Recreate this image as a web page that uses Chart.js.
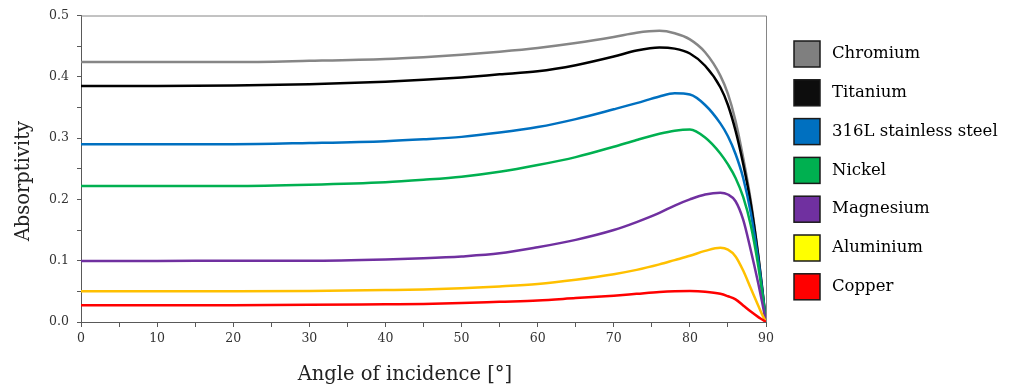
<!DOCTYPE html>
<html>
<head>
<meta charset="utf-8">
<script src="https://cdn.jsdelivr.net/npm/chart.js@4.4.1/dist/chart.umd.min.js"></script>
<style>
  html, body { margin: 0; padding: 0; background: #fff; }
  #wrap { width: 1009px; height: 392px; position: relative; }
</style>
</head>
<body>
<div id="wrap"><canvas id="absChart"></canvas></div>
<script>
// angle of incidence (deg)
const angles = [0, 10, 20, 30, 40, 45, 50, 55, 60, 65, 70, 73, 76, 78, 80, 82, 84, 85, 86, 87, 88, 89, 89.5, 90];

// absorptivity per metal
const chromium  = [0.424, 0.424, 0.424, 0.426, 0.429, 0.432, 0.436, 0.441, 0.447, 0.455, 0.465, 0.472, 0.475, 0.471, 0.461, 0.440, 0.402, 0.372, 0.328, 0.268, 0.198, 0.108, 0.056, 0];
const titanium  = [0.385, 0.385, 0.386, 0.388, 0.392, 0.395, 0.399, 0.404, 0.409, 0.419, 0.433, 0.443, 0.448, 0.446, 0.438, 0.418, 0.383, 0.354, 0.312, 0.258, 0.193, 0.106, 0.055, 0];
const steel316L = [0.290, 0.290, 0.290, 0.292, 0.295, 0.298, 0.302, 0.309, 0.318, 0.331, 0.347, 0.357, 0.368, 0.373, 0.371, 0.354, 0.324, 0.303, 0.274, 0.235, 0.178, 0.1, 0.052, 0];
const nickel    = [0.222, 0.222, 0.222, 0.224, 0.228, 0.232, 0.237, 0.245, 0.256, 0.269, 0.286, 0.297, 0.307, 0.312, 0.314, 0.301, 0.275, 0.257, 0.235, 0.204, 0.158, 0.09, 0.047, 0];
const magnesium = [0.0995, 0.0995, 0.1, 0.1, 0.102, 0.104, 0.107, 0.112, 0.122, 0.134, 0.15, 0.163, 0.178, 0.19, 0.2, 0.208, 0.211, 0.208, 0.197, 0.167, 0.117, 0.062, 0.032, 0];
const aluminium = [0.05, 0.05, 0.05, 0.0505, 0.052, 0.053, 0.055, 0.058, 0.062, 0.069, 0.078, 0.085, 0.094, 0.101, 0.108, 0.116, 0.121, 0.118, 0.107, 0.084, 0.055, 0.026, 0.012, 0];
const copper    = [0.0273, 0.0273, 0.0275, 0.028, 0.029, 0.0295, 0.031, 0.033, 0.035, 0.039, 0.043, 0.046, 0.049, 0.0502, 0.0505, 0.0495, 0.046, 0.042, 0.037, 0.027, 0.017, 0.008, 0.004, 0];

const names = ["Chromium", "Titanium", "316L stainless steel", "Nickel", "Magnesium", "Aluminium", "Copper"];
const series = [chromium, titanium, steel316L, nickel, magnesium, aluminium, copper];
const lineColors = ["#868686", "#000000", "#0070C0", "#00B050", "#7030A0", "#FFC000", "#FF0000"];
const boxColors  = ["#7f7f7f", "#0d0d0d", "#0070C0", "#00B050", "#7030A0", "#FFFF00", "#FF0000"];

const serif = "'DejaVu Serif', 'Liberation Serif', serif";
const nb = "\u00A0";

// frame round the plot + legend on the right
const framePlugin = {
    id: 'frame',
    afterDraw(chart) {
        const ctx = chart.ctx;
        const a = chart.chartArea;
        ctx.save();
        ctx.strokeStyle = "#868686";
        ctx.lineWidth = 1;
        ctx.beginPath();
        ctx.moveTo(a.left, a.top + 0.5);
        ctx.lineTo(a.right + 0.5, a.top + 0.5);
        ctx.lineTo(a.right + 0.5, a.bottom);
        ctx.stroke();

        // legend
        ctx.font = "16.5px " + serif;
        ctx.textBaseline = "middle";
        ctx.textAlign = "left";
        names.forEach((n, i) => {
            const cy = 54 + i * 38.8;
            ctx.fillStyle = boxColors[i];
            ctx.fillRect(794, cy - 13, 26, 26);
            ctx.strokeStyle = "#1a1a1a";
            ctx.lineWidth = 1.5;
            ctx.strokeRect(794, cy - 13, 26, 26);
            ctx.fillStyle = "#000";
            ctx.fillText(n, 832, cy);
        });
        ctx.restore();
    }
};

new Chart(document.getElementById("absChart"), {
    type: 'line',
    data: {
        datasets: series.map((s, i) => ({
            label: names[i],
            data: angles.map((a, j) => ({ x: a, y: s[j] })),
            borderColor: lineColors[i],
            backgroundColor: lineColors[i],
            borderWidth: 2.5,
            pointRadius: 0,
            fill: false,
            cubicInterpolationMode: 'monotone'
        })).reverse()
    },
    options: {
        responsive: true,
        maintainAspectRatio: false,
        animation: false,
        layout: { padding: { top: 15, right: 243, left: 0, bottom: 0 } },
        plugins: {
            legend: { display: false },
            tooltip: { enabled: false }
        },
        scales: {
            x: {
                type: 'linear',
                min: 0,
                max: 90,
                afterFit: (s) => { s.height = 70; },
                border: { color: "#595959", width: 1 },
                grid: { drawOnChartArea: false, drawTicks: true, tickLength: 5, color: "#595959" },
                ticks: {
                    stepSize: 5,
                    autoSkip: false,
                    maxRotation: 0,
                    padding: 4,
                    color: "#333",
                    font: { family: serif, size: 12.5 },
                    callback: (v) => (v % 10 === 0 ? String(v) : '')
                },
                title: {
                    display: true,
                    text: "Angle of incidence [°]" + nb.repeat(6),
                    color: "#222",
                    font: { family: serif, size: 19.5 },
                    padding: { top: 0, bottom: 5 }
                }
            },
            y: {
                min: 0,
                max: 0.5,
                afterFit: (s) => { s.width = 81; },
                border: { color: "#595959", width: 1 },
                grid: { drawOnChartArea: false, drawTicks: true, tickLength: 4, color: "#595959" },
                ticks: {
                    stepSize: 0.05,
                    autoSkip: false,
                    padding: 8,
                    color: "#333",
                    font: { family: serif, size: 12.5 },
                    callback: (v) => (Math.round(v * 100) % 10 === 0 ? v.toFixed(1) : '')
                },
                title: {
                    display: true,
                    text: "Absorptivity" + nb.repeat(4),
                    color: "#222",
                    font: { family: serif, size: 19.5 },
                    padding: { top: 12, bottom: 0 }
                }
            }
        }
    },
    plugins: [framePlugin]
});
</script>
</body>
</html>
